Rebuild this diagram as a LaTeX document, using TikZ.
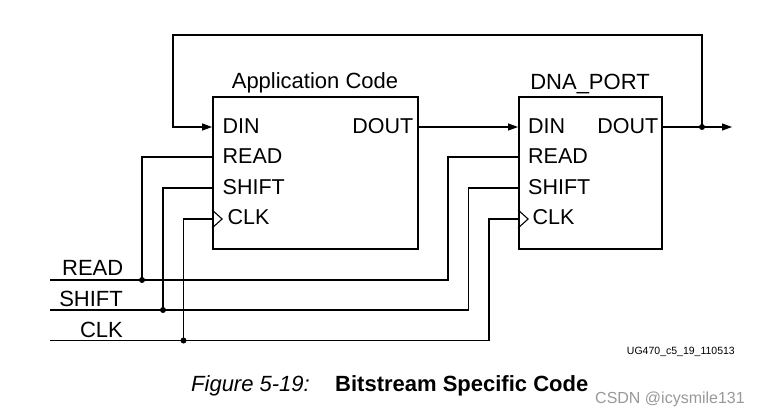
\documentclass[tikz,border=0pt]{standalone}
\usepackage{fontspec}
\setmainfont{Liberation Sans}
\usetikzlibrary{arrows.meta,calc}
\begin{document}
\begin{tikzpicture}[x=1pt,y=-1pt,
  box/.style={draw,line width=1.8pt,inner sep=0},
  wire/.style={line width=1.1pt},
  pinlbl/.style={inner sep=0,font=\fontsize{21.5}{22}\selectfont},
  lbl/.style={inner sep=0,font=\fontsize{22}{22}\selectfont},
  sig/.style={wire,-{Triangle[length=10pt,width=7pt]}},
  dot/.style={circle,fill,inner sep=0,minimum size=6pt}]
\useasboundingbox (0,0) rectangle (762,417);
\fill[white] (0,0) rectangle (762,417);

% boxes
\node[box,minimum width=205pt,minimum height=152pt] (app) at (315.5,173) {};
\node[box,minimum width=143pt,minimum height=152pt] (dna) at (590.5,173) {};
\node[lbl,anchor=base] (appt) at (315,89) {Application Code};
\node[lbl,anchor=base] (dnat) at (590,89.5) {DNA\_PORT};

% pin points
\coordinate (appdin) at (app.west |- 0,127);
\coordinate (appread) at (app.west |- 0,157);
\coordinate (appshift) at (app.west |- 0,188);
\coordinate (appclk) at (app.west |- 0,219);
\coordinate (appdout) at (app.east |- 0,127);
\coordinate (dnadin) at (dna.west |- 0,127);
\coordinate (dnaread) at (dna.west |- 0,157);
\coordinate (dnashift) at (dna.west |- 0,188);
\coordinate (dnaclk) at (dna.west |- 0,219);
\coordinate (dnadout) at (dna.east |- 0,127);

% pin labels
\node[pinlbl,anchor=west] (a1) at (222.5,126) {DIN};
\node[pinlbl,anchor=west] (a2) at (222.5,156.5) {READ};
\node[pinlbl,anchor=west] (a3) at (222.5,187) {SHIFT};
\node[pinlbl,anchor=west] (a4) at (227.5,217) {CLK};
\node[pinlbl,anchor=east] (a5) at (413.5,126) {DOUT};
\node[pinlbl,anchor=west] (d1) at (528,126) {DIN};
\node[pinlbl,anchor=west] (d2) at (528,156.5) {READ};
\node[pinlbl,anchor=west] (d3) at (528,187) {SHIFT};
\node[pinlbl,anchor=west] (d4) at (532.5,217) {CLK};
\node[pinlbl,anchor=east] (d5) at (658.5,126) {DOUT};

% clock triangles
\draw[wire] ($(appclk)+(0,-9)$) -- ($(appclk)+(10,0)$) -- ($(appclk)+(0,9)$);
\draw[wire] ($(dnaclk)+(0,-9)$) -- ($(dnaclk)+(10,0)$) -- ($(dnaclk)+(0,9)$);

% data path
\node[dot] (odot) at (702,127) {};
\coordinate (outend) at (732,127);
\coordinate (loopR) at (702,35);
\coordinate (loopL) at (173,35);
\draw[sig] (appdout) -- (dnadin);
\draw[sig] (dnadout) -- (outend);
\draw[sig] (odot.center) -- (loopR) -- (loopL) |- (appdin);

% bus lines
\coordinate (readL) at (50,280);
\coordinate (readR) at (448,280);
\coordinate (shiftL) at (50,310);
\coordinate (shiftR) at (468.5,310);
\coordinate (clkL) at (50,340.5);
\coordinate (clkR) at (489,340.5);
\draw[wire] (readL) -- (readR) |- (dnaread);
\draw[wire] (shiftL) -- (shiftR) |- (dnashift);
\draw[wire] (clkL) -- (clkR) |- (dnaclk);

\node[dot] (rdot) at (142,280) {};
\node[dot] (sdot) at (163,310) {};
\node[dot] (cdot) at (183.5,340.5) {};
\draw[wire] (rdot.center) |- (appread);
\draw[wire] (sdot.center) |- (appshift);
\draw[wire] (cdot.center) |- (appclk);

\node[lbl,anchor=base east] (lr) at (123.5,275.5) {READ};
\node[lbl,anchor=base east] (ls) at (123,306.5) {SHIFT};
\node[lbl,anchor=base east] (lc) at (123,337) {CLK};

% captions
\node[inner sep=0,anchor=base east,font=\fontsize{10.5}{11}\selectfont] (ug) at (735,354) {UG470\_c5\_19\_110513};
\node[inner sep=0,anchor=base west,font=\fontsize{22}{22}\selectfont\itshape] (fig) at (191,391.5) {Figure 5-19:};
\node[inner sep=0,anchor=base west,font=\fontsize{22}{22}\selectfont\bfseries] (cap) at (335,391.5) {Bitstream Specific Code};
\node[inner sep=0,anchor=base west,text=black!40,font=\fontsize{16}{16}\selectfont] (wm) at (595,403) {CSDN @icysmile131};
\end{tikzpicture}
\end{document}
